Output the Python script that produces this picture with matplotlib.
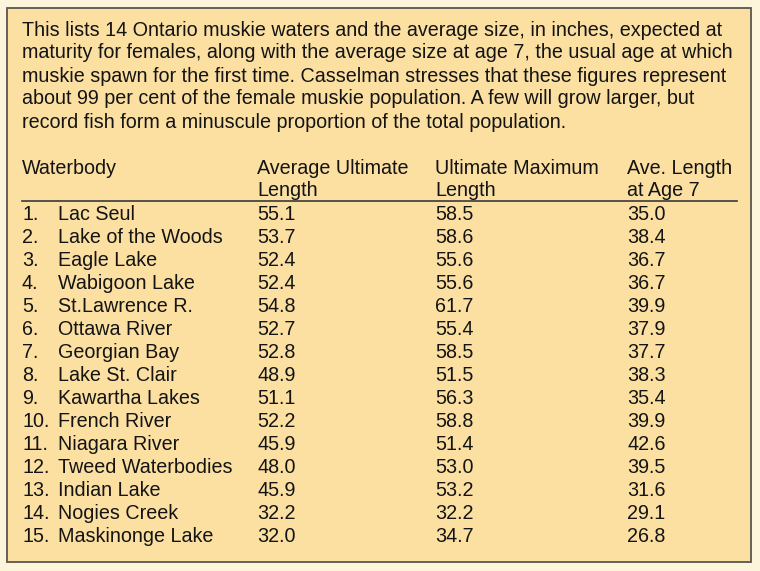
import matplotlib.pyplot as plt
from matplotlib.patches import Rectangle

# intro paragraph, one entry per printed line
intro = [
    "This lists 14 Ontario muskie waters and the average size, in inches, expected at",
    "maturity for females, along with the average size at age 7, the usual age at which",
    "muskie spawn for the first time. Casselman stresses that these figures represent",
    "about 99 per cent of the female muskie population. A few will grow larger, but",
    "record fish form a minuscule proportion of the total population.",
]

headers = ["Waterbody", "Average Ultimate\nLength", "Ultimate Maximum\nLength", "Ave. Length\nat Age 7"]

waterbodies = ["Lac Seul", "Lake of the Woods", "Eagle Lake", "Wabigoon Lake",
               "St.Lawrence R.", "Ottawa River", "Georgian Bay", "Lake St. Clair",
               "Kawartha Lakes", "French River", "Niagara River", "Tweed Waterbodies",
               "Indian Lake", "Nogies Creek", "Maskinonge Lake"]
avg_ultimate = [55.1, 53.7, 52.4, 52.4, 54.8, 52.7, 52.8, 48.9, 51.1, 52.2, 45.9, 48.0, 45.9, 32.2, 32.0]
ult_maximum = [58.5, 58.6, 55.6, 55.6, 61.7, 55.4, 58.5, 51.5, 56.3, 58.8, 51.4, 53.0, 53.2, 32.2, 34.7]
age7_length = [35.0, 38.4, 36.7, 36.7, 39.9, 37.9, 37.7, 38.3, 35.4, 39.9, 42.6, 39.5, 31.6, 29.1, 26.8]

fig = plt.figure(figsize=(7.6, 5.71), dpi=100, facecolor='#fdf4dc')
ax = fig.add_axes([0, 0, 1, 1])
ax.set_xlim(0, 760)
ax.set_ylim(571, 0)
ax.axis('off')

# the tan box
ax.add_patch(Rectangle((7, 8), 744, 554, facecolor='#fbe0a2', edgecolor='#5a5650', lw=1.3))

font = dict(family='Liberation Sans', fontsize=14.2, color='#141414', va='center')

for i, line in enumerate(intro):
    ax.text(22, 30 + i * 23, line, **font)

col_x = [22, 257, 435, 627]
for x, h in zip(col_x, headers):
    ax.text(x, 168, h.split('\n')[0], **font)
    if '\n' in h:
        ax.text(x, 191, h.split('\n')[1], **font)

ax.plot([22, 737], [201, 201], color='#3a3a3a', lw=1.2)

for i, name in enumerate(waterbodies):
    y = 214 + i * 23.07
    ax.text(22, y, f"{i + 1}.", **font)
    ax.text(58, y, name, **font)
    ax.text(col_x[1], y, f"{avg_ultimate[i]:.1f}", **font)
    ax.text(col_x[2], y, f"{ult_maximum[i]:.1f}", **font)
    ax.text(col_x[3], y, f"{age7_length[i]:.1f}", **font)

plt.savefig('out.png', dpi=100, facecolor=fig.get_facecolor())
